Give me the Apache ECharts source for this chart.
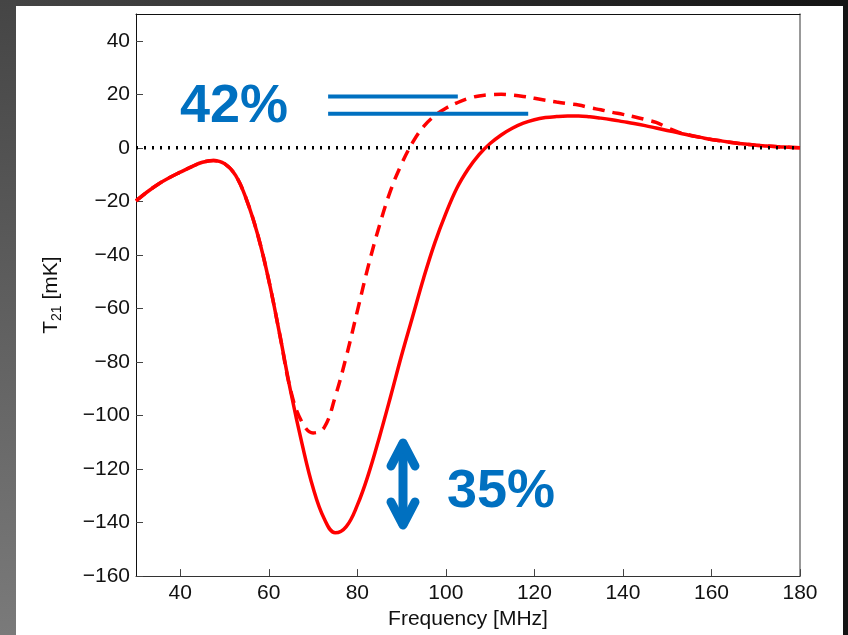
<!DOCTYPE html>
<html>
<head>
<meta charset="utf-8">
<script src="https://cdn.jsdelivr.net/npm/echarts@6/dist/echarts.min.js"></script>
<style>
html,body{margin:0;padding:0;width:848px;height:635px;overflow:hidden;}
body{background:linear-gradient(to right,#454545,#141414);position:relative;}
#leftStrip{position:absolute;left:0;top:0;width:16px;height:635px;background:linear-gradient(to bottom,#454545,#7a7a7a);}
#panel{position:absolute;left:16px;top:6px;width:827px;height:629px;background:#fff;}
#chart{position:absolute;left:0;top:0;width:848px;height:635px;}
</style>
</head>
<body>
<div id="leftStrip"></div>
<div id="panel"></div>
<div id="chart"></div>
<script>
// ---- data ----
const freq = [30,32.5,35,37.5,40,42.5,45,47.5,50,52.5,55,57.5,60,62.5,65,67.5,70,72.5,75,77.5,80,82.5,85,87.5,90,92.5,95,97.5,100,102.5,105,107.5,110,112.5,115,117.5,120,122.5,125,127.5,130,132.5,135,137.5,140,142.5,145,147.5,150,152.5,155,157.5,160,162.5,165,167.5,170,172.5,175,177.5,180];
const tSolid = [-19.8,-16.5,-13.6,-11.2,-9.1,-7.1,-5.4,-4.7,-5.9,-10.3,-19.5,-32.5,-49.5,-70,-91.5,-110.5,-127,-138.5,-143.8,-141.5,-133.5,-122,-108,-93,-77.5,-63,-48.5,-35.5,-24.5,-15,-8,-2.5,1.6,4.8,7.3,9.2,10.5,11.3,11.7,11.9,11.9,11.6,11.1,10.5,9.8,9.1,8.3,7.4,6.5,5.6,4.7,3.9,3.1,2.5,1.9,1.4,1.0,0.7,0.4,0.2,0];
const tDashed = [-19.8,-16.5,-13.6,-11.2,-9.1,-7.1,-5.4,-4.7,-5.9,-10.3,-19.5,-32.5,-49.5,-70,-91,-102.5,-106.5,-104.5,-93,-78,-61,-44,-29,-16,-6,2,8,12,14.8,16.8,18.4,19.4,19.9,20,19.7,19.2,18.5,17.8,17.1,16.5,16.0,15.0,14.2,13.3,12.5,11.6,10.6,9.5,7.6,5.9,4.8,3.9,3.1,2.5,1.9,1.4,1.0,0.7,0.4,0.2,0];
const zeroLine = [[30,0],[180,0]];
const barUpper = [[73.4,19.2],[102.7,19.2]];
const barLower = [[73.4,12.7],[118.6,12.7]];
const xTicks = [40,60,80,100,120,140,160,180];
const labelTop = '42%';
const labelBottom = '35%';

const pairs = (xs, ys) => xs.map((x,i)=>[x, ys[i]]);
const FONT = "'Liberation Sans', Arial, sans-serif";
const minus = v => String(v).replace('-', '\u2212');

const chart = echarts.init(document.getElementById('chart'), null, {renderer:'canvas'});
const option = {
  backgroundColor: 'transparent',
  animation: false,
  grid: {left:136, right:48, top:14, bottom:58, show:false},
  xAxis: [{
    type:'value', min:30, max:180, position:'bottom',
    name:'Frequency [MHz]', nameLocation:'middle', nameGap:32,
    nameTextStyle:{fontFamily:FONT, fontSize:21, color:'#111'},
    axisLine:{show:true, onZero:false, lineStyle:{color:'#333', width:1}},
    axisTick:{show:true, inside:true, length:7, customValues:xTicks, lineStyle:{color:'#444'}},
    axisLabel:{show:true, customValues:xTicks, margin:7, fontFamily:FONT, fontSize:21, color:'#111', formatter: minus},
    splitLine:{show:false}
  },{
    type:'value', min:30, max:180, position:'top',
    axisLine:{show:true, onZero:false, lineStyle:{color:'#111', width:1}},
    axisTick:{show:false}, axisLabel:{show:false}, splitLine:{show:false}
  }],
  yAxis: [{
    type:'value', min:-160, max:50, interval:20, position:'left',
    name:'{a|T}{b|21}{a| [mK]}', nameLocation:'middle', nameGap:72, nameRotate:90,
    nameTextStyle:{rich:{a:{fontFamily:FONT, fontSize:21, color:'#111'}, b:{fontFamily:FONT, fontSize:14, color:'#111', padding:[12,0,0,0]}}},
    axisLine:{show:true, onZero:false, lineStyle:{color:'#111', width:1}},
    axisTick:{show:true, inside:true, length:7, lineStyle:{color:'#444'}},
    axisLabel:{show:true, margin:6, showMaxLabel:false, fontFamily:FONT, fontSize:21, color:'#111', formatter: minus},
    splitLine:{show:false}
  },{
    type:'value', min:-160, max:50, position:'right',
    axisLine:{show:true, onZero:false, lineStyle:{color:'#777', width:1.5}},
    axisTick:{show:false}, axisLabel:{show:false}, splitLine:{show:false}
  }],
  series: [
    {type:'line', data:pairs(freq,tDashed), smooth:0.4, showSymbol:false, z:3,
     lineStyle:{color:'#ff0000', width:3.5, type:[12,8]}},
    {type:'line', data:pairs(freq,tSolid), smooth:0.4, showSymbol:false, z:4,
     lineStyle:{color:'#ff0000', width:3.5}},
    {type:'line', data:zeroLine, showSymbol:false, z:5,
     lineStyle:{color:'#000', width:3.5, type:[2,6]}},
    {type:'line', data:barUpper, showSymbol:false, z:6,
     lineStyle:{color:'#0070c0', width:4}},
    {type:'line', data:barLower, showSymbol:false, z:6,
     lineStyle:{color:'#0070c0', width:4}}
  ],
  graphic: [
    {type:'text', left:180, top:80, style:{text:labelTop, font:"bold 54px 'Liberation Sans', Arial", fill:'#0070c0'}},
    {type:'text', left:447, top:465, style:{text:labelBottom, font:"bold 54px 'Liberation Sans', Arial", fill:'#0070c0'}},
    {type:'polyline', shape:{points:[[403,444],[403,524]]}, style:{stroke:'#0070c0', lineWidth:9, lineCap:'round'}},
    {type:'polyline', shape:{points:[[391,466],[403,443],[415,466]]}, style:{stroke:'#0070c0', lineWidth:9, lineCap:'round', lineJoin:'round', fill:null}},
    {type:'polyline', shape:{points:[[391,502],[403,525],[415,502]]}, style:{stroke:'#0070c0', lineWidth:9, lineCap:'round', lineJoin:'round', fill:null}}
  ]
};
chart.setOption(option);
</script>
</body>
</html>
